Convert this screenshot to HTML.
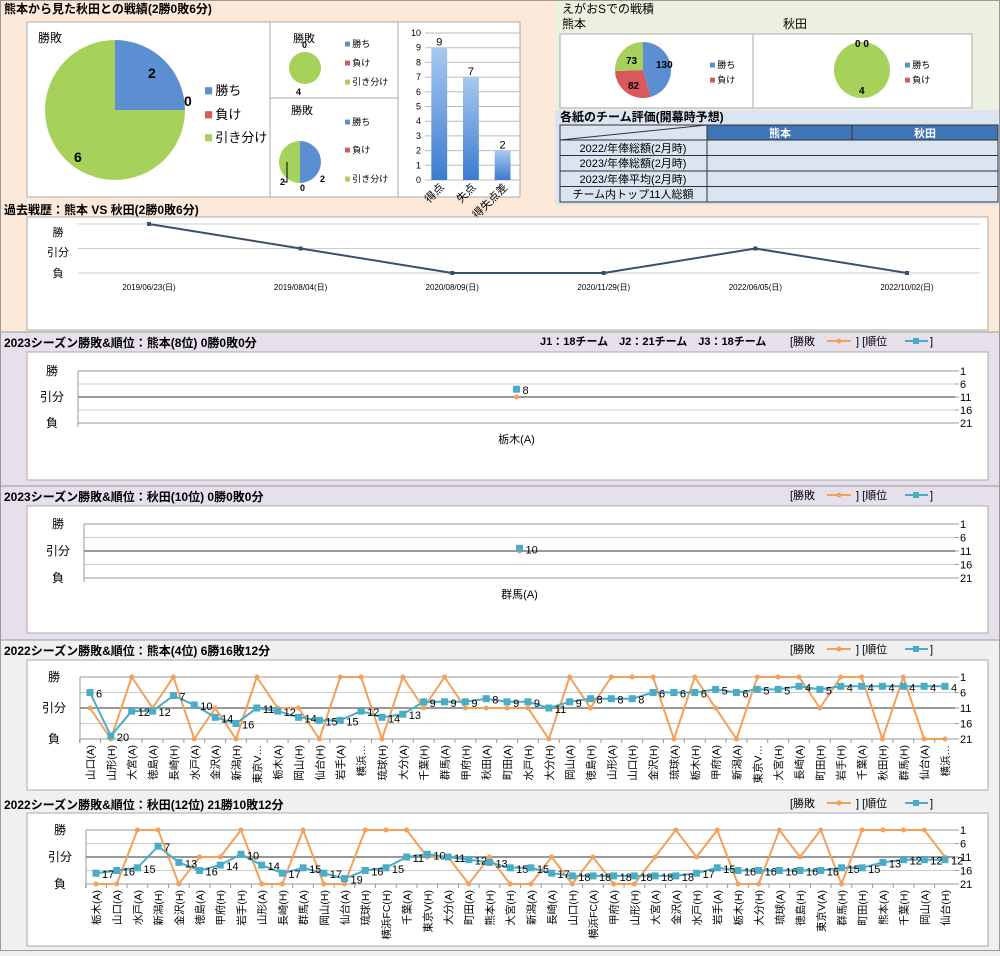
<!DOCTYPE html>
<html><head><meta charset="utf-8">
<style>
body{margin:0;width:1000px;height:951px;overflow:hidden;font-family:"Liberation Sans","Noto Sans CJK JP",sans-serif;background:#f0f0f0}
svg text{font-family:"Liberation Sans","Noto Sans CJK JP",sans-serif}
</style></head>
<body>
<svg id="s" width="1000" height="951" xmlns="http://www.w3.org/2000/svg">
<rect x="0" y="0" width="1000" height="332" fill="#fde9d9"/>
<rect x="555" y="0" width="445" height="110" fill="#ebf1de"/>
<rect x="555" y="110" width="445" height="95" fill="#dbe5f1"/>
<rect x="0" y="332" width="1000" height="308" fill="#e5e0ec"/>
<rect x="0" y="640" width="1000" height="311" fill="#f0f0f0"/>
<line x1="0" y1="332" x2="1000" y2="332" stroke="#999"/>
<line x1="0" y1="486" x2="1000" y2="486" stroke="#999"/>
<line x1="0" y1="640" x2="1000" y2="640" stroke="#999"/>
<rect x="0.5" y="0.5" width="999" height="950" fill="none" stroke="#999"/>

<text x="4" y="13" font-size="12" font-weight="bold">熊本から見た秋田との戦績(2勝0敗6分)</text>
<rect x="27" y="22" width="243" height="175" fill="#fff" stroke="#aaa"/>
<rect x="270" y="22" width="128" height="76" fill="#fff" stroke="#aaa"/>
<rect x="270" y="98" width="128" height="99" fill="#fff" stroke="#aaa"/>
<rect x="398" y="22" width="122" height="175" fill="#fff" stroke="#aaa"/>
<text x="38" y="42" font-size="12">勝敗</text>
<text x="293" y="42" font-size="11">勝敗</text>
<text x="291" y="114" font-size="11">勝敗</text>
<g id="bars"></g>

<text x="562" y="13" font-size="12">えがおSでの戦積</text>
<text x="562" y="28" font-size="12">熊本</text>
<text x="783" y="28" font-size="12">秋田</text>
<rect x="560" y="34" width="193" height="74" fill="#fff" stroke="#aaa"/>
<rect x="753" y="34" width="219" height="74" fill="#fff" stroke="#aaa"/>

<text x="560" y="121" font-size="12" font-weight="bold">各紙のチーム評価(開幕時予想)</text>
<g>
<rect x="560" y="125" width="438" height="15" fill="#3f75b5" stroke="#333"/>
<rect x="560" y="125" width="147" height="15" fill="#dbe5f1" stroke="#333"/>
<line x1="560" y1="140" x2="707" y2="125" stroke="#333"/>
<line x1="852" y1="125" x2="852" y2="202" stroke="#333"/>
<text x="780" y="137" font-size="11" fill="#fff" font-weight="bold" text-anchor="middle">熊本</text>
<text x="925" y="137" font-size="11" fill="#fff" font-weight="bold" text-anchor="middle">秋田</text>
<rect x="560" y="140" width="438" height="62" fill="#dbe5f1" stroke="#333"/>
<line x1="560" y1="155.5" x2="998" y2="155.5" stroke="#333"/>
<line x1="560" y1="171" x2="998" y2="171" stroke="#333"/>
<line x1="560" y1="186.5" x2="998" y2="186.5" stroke="#333"/>
<line x1="707" y1="125" x2="707" y2="202" stroke="#333"/>
<text x="633" y="152" font-size="11" text-anchor="middle">2022/年俸総額(2月時)</text>
<text x="633" y="167" font-size="11" text-anchor="middle">2023/年俸総額(2月時)</text>
<text x="633" y="183" font-size="11" text-anchor="middle">2023/年俸平均(2月時)</text>
<text x="633" y="198" font-size="11" text-anchor="middle">チーム内トップ11人総額</text>
</g>

<text x="4" y="214" font-size="12" font-weight="bold">過去戦歴：熊本 VS 秋田(2勝0敗6分)</text>
<rect x="27" y="217" width="961" height="113" fill="#fff" stroke="#aaa"/>
<g id="hist"></g>

<g id="seasons"></g>
<g id="pies"></g>
</svg>
<script>
const NS="http://www.w3.org/2000/svg";
const S=document.getElementById('s');
function mk(tag,attrs,parent,txt){const e=document.createElementNS(NS,tag);for(const k in attrs)e.setAttribute(k,attrs[k]);if(txt!==undefined)e.textContent=txt;(parent||S).appendChild(e);return e;}

// ---- pie data ----
const pieLabels=["勝ち","負け","引き分け"];
const pieColors=["#5b8fd1","#d9585a","#a6d15a"];
const bigPieValues=[2,0,6];
const small1Values=[0,0,4];
const small2Values=[2,0,2];
const kumaHomeValues=[130,82,73];
const akitaHomeValues=[0,0,4];
const goalCats=["得点","失点","得失点差"];
const goalValues=[9,7,2];
const goalTicks=[0,1,2,3,4,5,6,7,8,9,10];

function pie(g,cx,cy,r,vals,name){
  const tot=vals.reduce((a,b)=>a+b,0);let a0=-Math.PI/2;
  vals.forEach((v,i)=>{
    if(v<=0)return;
    const a1=a0+v/tot*2*Math.PI;let el;
    if(v===tot){el=mk('circle',{cx:cx,cy:cy,r:r,fill:pieColors[i]},g);}
    else{
      const x0=cx+r*Math.cos(a0),y0=cy+r*Math.sin(a0),x1=cx+r*Math.cos(a1),y1=cy+r*Math.sin(a1);
      el=mk('path',{d:`M${cx},${cy}L${x0},${y0}A${r},${r} 0 ${a1-a0>Math.PI?1:0} 1 ${x1},${y1}Z`,fill:pieColors[i]},g);
    }
    
    
    a0=a1;
  });
}
function legend(g,x,ys,n,fs){
  for(let i=0;i<n;i++){
    mk('rect',{x:x,y:ys[i]-fs*0.6,width:fs*0.55,height:fs*0.55,fill:pieColors[i]},g);
    const t=mk('text',{x:x+fs*0.8,y:ys[i],'font-size':fs},g,pieLabels[i]);
    
    
  }
}
const P=document.getElementById('pies');
pie(P,115,110,70,bigPieValues,'big-pie');
legend(P,205,[95,119,142],3,13);
mk('text',{x:148,y:78,'font-size':14,'font-weight':'bold'},P,String(bigPieValues[0]));
mk('text',{x:184,y:106,'font-size':14,'font-weight':'bold'},P,String(bigPieValues[1]));
mk('text',{x:74,y:162,'font-size':14,'font-weight':'bold'},P,String(bigPieValues[2]));
pie(P,305,68,16,small1Values,'small-pie-1');
legend(P,345,[47,66,85],3,9);
mk('text',{x:302,y:48,'font-size':9,'font-weight':'bold'},P,String(small1Values[0]));
mk('text',{x:296,y:95,'font-size':9,'font-weight':'bold'},P,String(small1Values[2]));
pie(P,300,162,21,small2Values,'small-pie-2');
legend(P,345,[125,153,182],3,9);
mk('text',{x:320,y:182,'font-size':9,'font-weight':'bold'},P,String(small2Values[0]));
mk('text',{x:280,y:185,'font-size':9,'font-weight':'bold'},P,String(small2Values[2]));
mk('text',{x:300,y:191,'font-size':9,'font-weight':'bold'},P,String(small2Values[1]));
mk('polyline',{points:'284,182 287,182 287,162',fill:'none',stroke:'#000','stroke-width':1},P);
pie(P,643,70,28,kumaHomeValues,'kumamoto-home-pie');
legend(P,710,[68,83],2,9);
mk('text',{x:656,y:68,'font-size':10,'font-weight':'bold'},P,String(kumaHomeValues[0]));
mk('text',{x:628,y:89,'font-size':10,'font-weight':'bold'},P,String(kumaHomeValues[1]));
mk('text',{x:626,y:64,'font-size':10,'font-weight':'bold'},P,String(kumaHomeValues[2]));
pie(P,862,70,28,akitaHomeValues,'akita-home-pie');
legend(P,905,[68,83],2,9);
mk('text',{x:855,y:47,'font-size':10,'font-weight':'bold'},P,akitaHomeValues[0]+' '+akitaHomeValues[1]);
mk('text',{x:859,y:94,'font-size':10,'font-weight':'bold'},P,String(akitaHomeValues[2]));

// ---- bar chart ----
const B=document.getElementById('bars');
const by0=180,by1=33,bx0=425,bx1=520;
const byS=v=>by0-(v/10)*(by0-by1);
const defs=mk('defs',{});
const lg=mk('linearGradient',{id:'bg',x1:0,y1:0,x2:0,y2:1},defs);
mk('stop',{offset:'0','stop-color':'#a9c8f0'},lg);mk('stop',{offset:'1','stop-color':'#3a7cd0'},lg);
goalTicks.forEach(t=>{mk('line',{x1:bx0,x2:bx1,y1:byS(t),y2:byS(t),stroke:'#bbb'},B);mk('text',{x:bx0-4,y:byS(t)+3,'font-size':9,'text-anchor':'end'},B,String(t));});
const bw=(bx1-bx0)/goalCats.length;
goalCats.forEach((c,i)=>{
  const x=bx0+bw*i+bw*0.2,v=goalValues[i];
  const r=mk('rect',{x:x,y:byS(v),width:bw*0.5,height:by0-byS(v),fill:'url(#bg)'},B);
  
  
  mk('text',{x:x+bw*0.25,y:byS(v)-2,'font-size':11,'text-anchor':'middle'},B,String(v));
  const cx=bx0+bw*(i+0.5);
  mk('text',{x:cx+4,y:by0+8,'font-size':11,'text-anchor':'end',transform:`rotate(-45 ${cx+4} ${by0+8})`},B,c);
});

// ---- history ----
const histDates=["2019/06/23(日)","2019/08/04(日)","2020/08/09(日)","2020/11/29(日)","2022/06/05(日)","2022/10/02(日)"];
const histValues=[2,1,0,0,1,0];
const H=document.getElementById('hist');
const hy=v=>273-v*24.5, hx=i=>149+i*151.6;
[224,248.5,273].forEach(y=>mk('line',{x1:78,x2:980,y1:y,y2:y,stroke:'#ccc'},H));
[["勝",236],["引分",256],["負",277]].forEach(a=>mk('text',{x:58,y:a[1],'font-size':11,'text-anchor':'middle'},H,a[0]));
mk('polyline',{points:histValues.map((v,i)=>hx(i)+','+hy(v)).join(' '),fill:'none',stroke:'#3b4e6e','stroke-width':2,},H);
histValues.forEach((v,i)=>{const p=mk('rect',{x:hx(i)-2,y:hy(v)-2,width:4,height:4,fill:'#3b4e6e'},H);
mk('text',{x:hx(i),y:290,'font-size':8,'text-anchor':'middle'},H,histDates[i]);});

// ---- season charts ----
const ORANGE="#f3a05a",TEAL="#4bacc6";
const k23Cats=["栃木(A)"];const k23Results=[0.5];const k23Ranks=[8];
const a23Cats=["群馬(A)"];const a23Results=[0.5];const a23Ranks=[10];
const k22Cats=["山口(A)","山形(H)","大宮(A)","徳島(A)","長崎(H)","水戸(A)","金沢(A)","新潟(H)","東京V…","栃木(A)","岡山(H)","仙台(H)","岩手(A)","横浜…","琉球(H)","大分(A)","千葉(H)","群馬(A)","甲府(H)","秋田(A)","町田(A)","水戸(H)","大分(H)","岡山(A)","徳島(H)","山形(A)","山口(H)","金沢(H)","琉球(A)","栃木(H)","甲府(A)","新潟(A)","東京V…","大宮(H)","長崎(A)","町田(H)","岩手(H)","千葉(A)","秋田(H)","群馬(H)","仙台(A)","横浜…"];
const k22Results=[0.5,0,1,0.5,1,0,0.5,0,1,0.5,0.5,0,1,1,0,1,0.5,1,0.5,0.5,0.5,0.5,0,1,0.5,1,1,1,0,1,0.5,0,1,1,1,0.5,1,1,0,1,0,0];
const k22Ranks=[6,20,12,12,7,10,14,16,11,12,14,15,15,12,14,13,9,9,9,8,9,9,11,9,8,8,8,6,6,6,5,6,5,5,4,5,4,4,4,4,4,4];
const a22Cats=["栃木(A)","山口(A)","水戸(A)","新潟(H)","金沢(H)","徳島(A)","甲府(H)","岩手(H)","山形(A)","長崎(H)","群馬(A)","岡山(H)","仙台(A)","琉球(H)","横浜FC(H)","千葉(A)","東京V(H)","大分(A)","町田(A)","熊本(H)","大宮(H)","新潟(A)","長崎(A)","山口(H)","横浜FC(A)","甲府(A)","山形(H)","大宮(A)","金沢(A)","水戸(H)","岩手(A)","栃木(H)","大分(H)","琉球(A)","徳島(H)","東京V(A)","群馬(H)","町田(H)","熊本(A)","千葉(H)","岡山(A)","仙台(H)"];
const a22Results=[0,0,1,1,0,0.5,0.5,1,0,0,1,0,0,1,1,1,0.5,0.5,0,0.5,0,0,0.5,0,0.5,0,0,0.5,1,0.5,1,0,0,1,0.5,1,0,1,1,1,1,0.5];
const a22Ranks=[17,16,15,7,13,16,14,10,14,17,15,17,19,16,15,11,10,11,12,13,15,15,17,18,18,18,18,18,18,17,15,16,16,16,16,16,15,15,13,12,12,12];

const G=document.getElementById('seasons');
function season(c){
  const g=mk('g',{},G);
  mk('text',{x:4,y:c.titleY,'font-size':12,'font-weight':'bold'},g,c.title);
  mk('text',{x:790,y:c.titleY-2,'font-size':11},g,'[勝敗');
  mk('line',{x1:827,x2:851,y1:c.titleY-6,y2:c.titleY-6,stroke:ORANGE,'stroke-width':2},g);
  mk('circle',{cx:839,cy:c.titleY-6,r:2.5,fill:ORANGE},g);
  mk('text',{x:856,y:c.titleY-2,'font-size':11},g,'] [順位');
  mk('line',{x1:905,x2:928,y1:c.titleY-6,y2:c.titleY-6,stroke:TEAL,'stroke-width':2},g);
  mk('rect',{x:913,y:c.titleY-9,width:6,height:6,fill:TEAL},g);
  mk('text',{x:930,y:c.titleY-2,'font-size':11},g,']');
  if(c.extra)mk('text',{x:540,y:c.titleY-2,'font-size':11,'font-weight':'bold'},g,c.extra);
  mk('rect',{x:27,y:c.py,width:961,height:c.ph,fill:'#fff',stroke:'#aaa'},g);
  const top=c.top,bot=c.bot,x0=c.x0,x1=c.x1;
  const yR=r=>top+(r-1)/20*(bot-top);
  const yW=v=>bot-v*(bot-top);
  [1,6,11,16,21].forEach((r,i)=>{
    mk('line',{x1:x0,x2:x1,y1:yR(r),y2:yR(r),stroke:(r===11||r===21||r===1)?'#999':'#ccc','stroke-width':r===11?2:1},g);
    mk('line',{x1:x1,x2:x1+4,y1:yR(r),y2:yR(r),stroke:'#999'},g);
    mk('text',{x:x1+5,y:yR(r)+4,'font-size':11},g,String(r));
  });
  mk('line',{x1:x0,x2:x0,y1:top,y2:bot+4,stroke:'#999'},g);
  [["勝",yW(1)],["引分",yW(0.5)],["負",yW(0)]].forEach(a=>mk('text',{x:x0-26,y:a[1]+4,'font-size':12,'text-anchor':'middle'},g,a[0]));
  const n=c.cats.length;
  const xs=i=>n===1?(x0+x1)/2:c.fx+i*(c.lx-c.fx)/(n-1);
  if(n>1){
    mk('polyline',{points:c.results.map((v,i)=>xs(i)+','+yW(v)).join(' '),fill:'none',stroke:ORANGE,'stroke-width':2},g);
    mk('polyline',{points:c.ranks.map((v,i)=>xs(i)+','+yR(v)).join(' '),fill:'none',stroke:TEAL,'stroke-width':2},g);
  }
  c.cats.forEach((cat,i)=>{
    const x=xs(i);
    const o=mk('circle',{cx:x,cy:yW(c.results[i]),r:2.5,fill:ORANGE},g);
    
    
    const r=mk('rect',{x:x-3.5,y:yR(c.ranks[i])-3.5,width:7,height:7,fill:TEAL},g);
    
    
    mk('text',{x:x+6,y:yR(c.ranks[i])+5,'font-size':11},g,String(c.ranks[i]));
    if(n>1){
      mk('line',{x1:x-(c.lx-c.fx)/(n-1)/2,x2:x-(c.lx-c.fx)/(n-1)/2,y1:bot,y2:bot+4,stroke:'#999'},g);
      mk('text',{x:x+4,y:bot+6,'font-size':10.5,'text-anchor':'end',transform:`rotate(-90 ${x+4} ${bot+6})`},g,cat);
    } else {
      mk('text',{x:x,y:bot+20,'font-size':11,'text-anchor':'middle'},g,cat);
    }
  });
}
season({name:'kumamoto-2023-chart',title:'2023シーズン勝敗&順位：熊本(8位) 0勝0敗0分',extra:'J1：18チーム　J2：21チーム　J3：18チーム',titleY:347,py:352,ph:128,top:371,bot:423,x0:78,x1:955,cats:k23Cats,results:k23Results,ranks:k23Ranks});
season({name:'akita-2023-chart',title:'2023シーズン勝敗&順位：秋田(10位) 0勝0敗0分',titleY:501,py:506,ph:127,top:524,bot:578,x0:84,x1:955,cats:a23Cats,results:a23Results,ranks:a23Ranks});
season({name:'kumamoto-2022-chart',title:'2022シーズン勝敗&順位：熊本(4位) 6勝16敗12分',titleY:655,py:660,ph:130,top:677,bot:739,x0:80,x1:955,fx:90,lx:945,cats:k22Cats,results:k22Results,ranks:k22Ranks});
season({name:'akita-2022-chart',title:'2022シーズン勝敗&順位：秋田(12位) 21勝10敗12分',titleY:809,py:813,ph:133,top:830,bot:884,x0:86,x1:955,fx:96,lx:945,cats:a22Cats,results:a22Results,ranks:a22Ranks});
</script>
</body></html>
